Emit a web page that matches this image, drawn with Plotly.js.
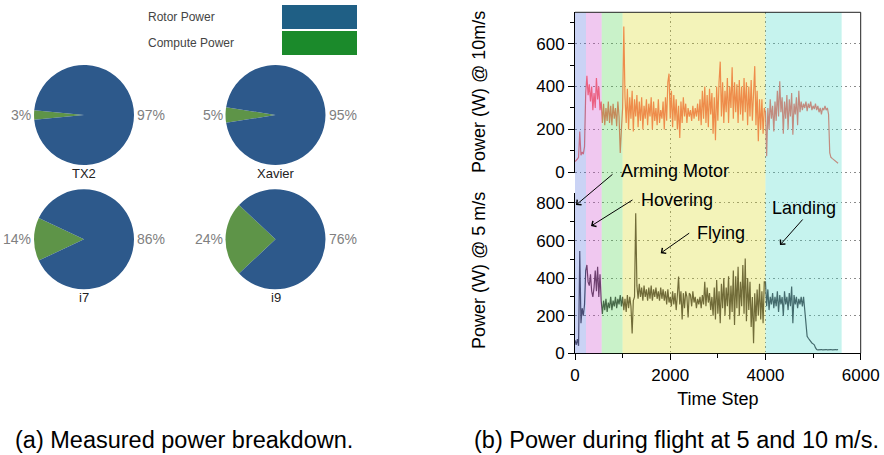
<!DOCTYPE html>
<html>
<head>
<meta charset="utf-8">
<script src="https://cdn.plot.ly/plotly-3.0.1.min.js"></script>
<style>html,body{margin:0;padding:0;background:#fff;}#chart{width:884px;height:455px;}</style>
</head>
<body>
<div id="chart"></div>
<script>
// ---------- data ----------
const chipNames = ['TX2', 'Xavier', 'i7', 'i9'];
const computeShare = [3, 5, 14, 24];
const rotorShare = [97, 95, 86, 76];
const shareLabels = ['Compute Power', 'Rotor Power'];

const phaseStart = [0, 230, 560, 1000, 4000];
const phaseEnd = [230, 560, 1000, 4000, 5600];
const phaseNames = ['Arming Motor', 'Hovering', 'Flying', 'Landing'];

const sampleStep = 25; // time steps between samples
const power10ms = [
  50, 55, 62, 70, 190, 80, 95, 85, 120,
  370, 450, 360, 410, 330, 400, 290, 370, 300, 440, 340, 400, 290, 330,
  230, 320, 220, 300, 240, 330, 230, 310, 220, 320, 250, 300, 215, 330, 260, 90, 200,
  300, 680, 350, 230, 390, 200, 350, 250, 380, 190, 340, 260, 360, 210, 330, 240, 350, 200, 310, 250,
  340, 220, 320, 260, 350, 200, 330, 240, 300, 220, 340, 230, 290, 250, 330, 200, 350, 240, 420, 460,
  250, 380, 210, 360, 240, 340, 200, 310, 160, 330, 230, 350, 260, 320, 230, 300, 260, 290, 240, 310,
  250, 300, 260, 320, 240, 340, 220, 380, 250, 400, 230, 360, 210, 390, 270, 370, 180, 350, 150, 400,
  240, 420, 516, 260, 420, 230, 380, 280, 440, 230, 400, 300, 490, 250, 420, 280, 410, 230, 430, 270,
  400, 240, 440, 280, 420, 220, 400, 260, 430, 240, 400, 495, 220, 380, 145, 340, 200, 340, 180, 300,
  280, 75, 300, 200, 340, 250, 310, 190, 330, 240, 380, 260, 425, 280, 350, 180, 330, 250, 360, 200,
  340, 260, 370, 175, 320, 270, 350, 220, 380, 280, 330, 290, 320, 300, 330, 285, 320, 300, 330, 290,
  310, 295, 320, 290, 310, 280, 300, 270, 300, 290, 310, 290, 300, 270, 90, 70, 65, 60, 55, 50, 45, 42
];
const power5ms = [
  70, 45, 75, 40, 544, 160, 240, 200, 260,
  440, 470, 380, 360, 420, 330, 300, 350, 440, 330, 460, 300, 420, 280,
  210, 280, 230, 290, 220, 270, 240, 300, 230, 280, 250, 300, 240, 290, 260, 310, 250,
  300, 230, 290, 220, 310, 240, 300, 250, 106, 280, 300, 745, 360, 290, 370, 300, 350, 280, 360, 300,
  340, 280, 350, 290, 360, 280, 340, 300, 350, 290, 330, 280, 350, 290, 340, 280, 330, 260, 340, 270,
  300, 250, 330, 260, 320, 230, 310, 408, 260, 330, 180, 320, 240, 330, 300, 190, 320, 310, 250, 330,
  270, 300, 240, 290, 260, 300, 240, 310, 260, 380, 250, 350, 270, 320, 230, 300, 200, 350, 180, 390,
  210, 330, 160, 370, 240, 400, 200, 350, 250, 410, 180, 360, 220, 440, 150, 410, 240, 460, 200, 380,
  250, 470, 210, 505, 170, 400, 230, 380, 140, 300, 53, 320, 170, 340, 200, 370, 180, 330, 160, 380,
  380, 250, 340, 230, 300, 260, 320, 240, 300, 250, 330, 220, 310, 260, 300, 200, 330, 260, 300, 230,
  320, 250, 355, 160, 310, 260, 300, 240, 290, 260, 300, 250, 300, 240, 170, 90, 80, 70, 60, 55,
  50, 45, 30, 20, 18, 20, 18, 20, 18, 20, 18, 20, 18, 20, 18, 20, 18, 20, 18, 20, 18, 20
];

// ---------- styling / layout helpers ----------
const W = 884, H = 455;
const px = x => x / W;
const py = y => 1 - y / H;
const FONT = 'Liberation Sans, Arial, Helvetica, sans-serif';

const pieColors = ['#5e9448', '#2d598b'];
const spanColors = ['rgb(81,108,222)', 'rgb(205,72,205)', 'rgb(75,212,75)', 'rgb(215,215,22)', 'rgb(65,215,198)'];
const lineTop = 'rgb(248,108,98)';
const lineBot = 'rgb(70,62,72)';

const pieCenters = [[84, 115], [275.5, 115], [84, 239.3], [275.5, 239.3]];
const pieR = 50;

const time10 = power10ms.map((_, i) => i * sampleStep);
const time5 = power5ms.map((_, i) => i * sampleStep);

const traces = [];
chipNames.forEach((name, i) => {
  const [cx, cy] = pieCenters[i];
  const p = computeShare[i] / (computeShare[i] + rotorShare[i]);
  traces.push({
    type: 'pie',
    labels: shareLabels,
    values: [computeShare[i], rotorShare[i]],
    sort: false,
    direction: 'clockwise',
    rotation: 270 - p * 180,
    marker: {colors: pieColors, line: {width: 0}},
    textinfo: 'none',
    hoverinfo: 'label+percent',
    showlegend: false,
    domain: {x: [px(cx - pieR), px(cx + pieR)], y: [py(cy + pieR), py(cy - pieR)]}
  });
});

traces.push({
  type: 'scatter', mode: 'lines', x: time10, y: power10ms,
  xaxis: 'x2', yaxis: 'y2', line: {color: lineTop, width: 1.2}, showlegend: false
});
traces.push({
  type: 'scatter', mode: 'lines', x: time5, y: power5ms,
  xaxis: 'x', yaxis: 'y', line: {color: lineBot, width: 1.2}, showlegend: false
});

const xDom = [px(575), px(860.7)];
const yBotDom = [py(353.3), py(193)];
const yTopDom = [py(173.4), py(12.3)];

const gridCommon = {showgrid: true, gridcolor: '#8a8a8a', gridwidth: 1, griddash: '1.5px,3px', zeroline: false};

const shapes = [];
phaseStart.forEach((s, i) => {
  shapes.push({
    type: 'rect', xref: 'x', yref: 'paper', x0: s, x1: phaseEnd[i],
    y0: yBotDom[0], y1: yTopDom[1], fillcolor: spanColors[i], opacity: 0.3,
    line: {width: 0}, layer: 'above'
  });
});
// top and right frame lines
shapes.push({type: 'line', xref: 'paper', yref: 'paper', x0: xDom[0], x1: xDom[1], y0: yTopDom[1], y1: yTopDom[1], line: {color: '#222', width: 1}, layer: 'above'});
shapes.push({type: 'line', xref: 'paper', yref: 'paper', x0: xDom[1], x1: xDom[1], y0: yBotDom[0], y1: yTopDom[1], line: {color: '#222', width: 1}, layer: 'above'});
// legend swatches
shapes.push({type: 'rect', xref: 'paper', yref: 'paper', x0: px(282), x1: px(357), y0: py(29), y1: py(5), fillcolor: '#1f5f85', line: {width: 0}});
shapes.push({type: 'rect', xref: 'paper', yref: 'paper', x0: px(282), x1: px(357), y0: py(55), y1: py(31), fillcolor: '#1b8a2b', line: {width: 0}});

const annotations = [];
// legend text
annotations.push({xref: 'paper', yref: 'paper', x: px(146), y: py(16.7), xanchor: 'left', yanchor: 'middle', text: 'Rotor Power', showarrow: false, font: {family: FONT, size: 12, color: '#444'}});
annotations.push({xref: 'paper', yref: 'paper', x: px(146), y: py(43), xanchor: 'left', yanchor: 'middle', text: 'Compute Power', showarrow: false, font: {family: FONT, size: 12, color: '#444'}});
// pie labels
chipNames.forEach((name, i) => {
  const [cx, cy] = pieCenters[i];
  annotations.push({xref: 'paper', yref: 'paper', x: px(cx - pieR - 1), y: py(cy), xanchor: 'right', yanchor: 'middle', text: computeShare[i] + '%', showarrow: false, font: {family: FONT, size: 14, color: '#808080'}});
  annotations.push({xref: 'paper', yref: 'paper', x: px(cx + pieR + 1), y: py(cy), xanchor: 'left', yanchor: 'middle', text: rotorShare[i] + '%', showarrow: false, font: {family: FONT, size: 14, color: '#808080'}});
  annotations.push({xref: 'paper', yref: 'paper', x: px(cx), y: py(cy + pieR + 8), xanchor: 'center', yanchor: 'middle', text: name, showarrow: false, font: {family: FONT, size: 13, color: '#222'}});
});
// y titles
annotations.push({xref: 'paper', yref: 'paper', x: px(479), y: py(92), textangle: -90, xanchor: 'center', yanchor: 'middle', text: 'Power (W) @ 10m/s', showarrow: false, font: {family: FONT, size: 18, color: '#000'}});
annotations.push({xref: 'paper', yref: 'paper', x: px(479), y: py(270), textangle: -90, xanchor: 'center', yanchor: 'middle', text: 'Power (W) @ 5 m/s', showarrow: false, font: {family: FONT, size: 18, color: '#000'}});
// phase labels and arrows
const labelPos = [[675, 171], [676.7, 200], [720.8, 233.3], [804, 207.7]];
const arrowTail = [[819, 959], [1239, 821], [2430, 645], [4809, 720]];
const arrowTip = [[21, 789], [336, 677], [1800, 533], [4305, 576]];
phaseNames.forEach((n, i) => {
  annotations.push({xref: 'paper', yref: 'paper', x: px(labelPos[i][0]), y: py(labelPos[i][1]), xanchor: 'center', yanchor: 'middle', text: n, showarrow: false, font: {family: FONT, size: 18, color: '#000'}});
  annotations.push({xref: 'x', yref: 'y', axref: 'x', ayref: 'y', x: arrowTip[i][0], y: arrowTip[i][1], ax: arrowTail[i][0], ay: arrowTail[i][1], text: '', showarrow: true, arrowhead: 4, arrowsize: 1.3, arrowwidth: 1, arrowcolor: '#000', standoff: 0, startstandoff: 0});
});
// captions
annotations.push({xref: 'paper', yref: 'paper', x: px(184), y: py(440), xanchor: 'center', yanchor: 'middle', text: '(a) Measured power breakdown.', showarrow: false, font: {family: FONT, size: 23.5, color: '#000'}});
annotations.push({xref: 'paper', yref: 'paper', x: px(676), y: py(440), xanchor: 'center', yanchor: 'middle', text: '(b) Power during flight at 5 and 10 m/s.', showarrow: false, font: {family: FONT, size: 23.5, color: '#000'}});

const layout = {
  width: W, height: H,
  margin: {l: 0, r: 0, t: 0, b: 0},
  paper_bgcolor: '#fff', plot_bgcolor: '#fff',
  font: {family: FONT, size: 17, color: '#000'},
  showlegend: false,
  xaxis: Object.assign({}, gridCommon, {
    domain: xDom, anchor: 'y', range: [0, 6000], tickvals: [0, 2000, 4000, 6000],
    ticks: 'outside', ticklen: 6, tickwidth: 1, tickcolor: '#000',
    showline: true, linecolor: '#000', linewidth: 1,
    minor: {tickvals: [1000, 3000, 5000], ticks: 'outside', ticklen: 4, tickcolor: '#000', showgrid: false},
    tickfont: {family: FONT, size: 17, color: '#000'},
    title: {text: 'Time Step', font: {family: FONT, size: 18, color: '#000'}, standoff: 8}
  }),
  xaxis2: Object.assign({}, gridCommon, {
    domain: xDom, anchor: 'y2', matches: 'x', range: [0, 6000], tickvals: [0, 2000, 4000, 6000],
    showticklabels: false, ticks: '', showline: false
  }),
  yaxis: Object.assign({}, gridCommon, {
    domain: yBotDom, anchor: 'x', range: [0, 853], tickvals: [0, 200, 400, 600, 800],
    ticks: 'outside', ticklen: 6, tickwidth: 1, tickcolor: '#000',
    showline: true, linecolor: '#000', linewidth: 1,
    minor: {tickvals: [100, 300, 500, 700], ticks: 'outside', ticklen: 4, tickcolor: '#000', showgrid: false},
    tickfont: {family: FONT, size: 17, color: '#000'}
  }),
  yaxis2: Object.assign({}, gridCommon, {
    domain: yTopDom, anchor: 'x2', range: [-5, 746], tickvals: [0, 200, 400, 600],
    ticks: 'outside', ticklen: 6, tickwidth: 1, tickcolor: '#000',
    showline: true, linecolor: '#000', linewidth: 1,
    minor: {tickvals: [100, 300, 500, 700], ticks: 'outside', ticklen: 4, tickcolor: '#000', showgrid: false},
    tickfont: {family: FONT, size: 17, color: '#000'}
  }),
  shapes: shapes,
  annotations: annotations
};

Plotly.newPlot('chart', traces, layout, {staticPlot: true, displayModeBar: false});
</script>
</body>
</html>
